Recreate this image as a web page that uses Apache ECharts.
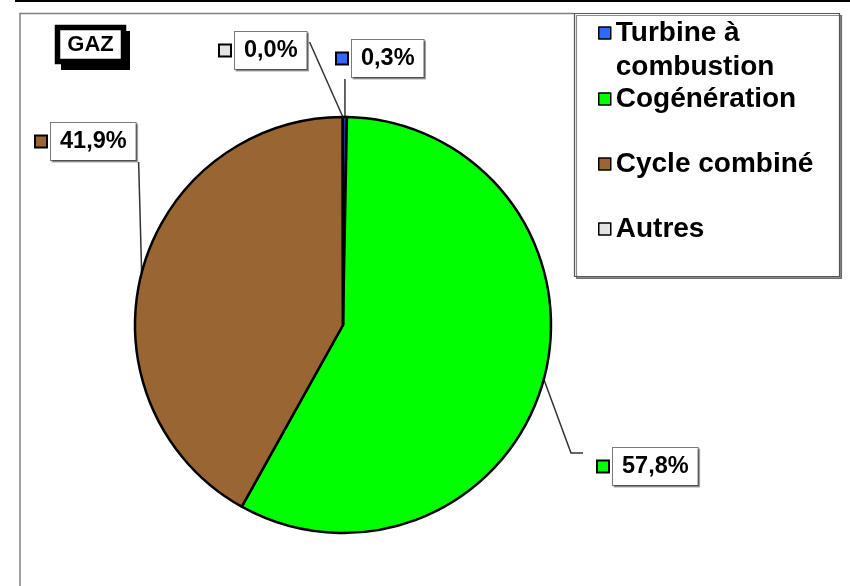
<!DOCTYPE html>
<html>
<head>
<meta charset="utf-8">
<script src="https://cdn.jsdelivr.net/npm/echarts@6/dist/echarts.min.js"></script>
<style>
  html, body { margin: 0; padding: 0; background: #fff; }
  #chart { width: 850px; height: 586px; }
</style>
</head>
<body>
<div id="chart"></div>
<script>
// ---- data ----
var categories = ['Turbine à combustion', 'Cogénération', 'Cycle combiné', 'Autres'];
var shares = [0.3, 57.8, 41.9, 0.02]; // percent (Autres shown as 0,0%)
var colors = ['#3366FF', '#00FF00', '#996633', '#E3E3E3'];
var chartTitle = 'GAZ';

// ---- style: label anchor positions (left of key square, top of box) ----
var labelPos = [[337, 40], [598, 448], [36, 123], [220, 32]];

var FONT = '"Liberation Sans", Arial, sans-serif';

function fmtPct(v) { return v.toFixed(1).replace('.', ',') + '%'; }

var chart = echarts.init(document.getElementById('chart'), null, { renderer: 'canvas' });

var legendText = { fontFamily: FONT, fontSize: 28, fontWeight: 'bold', color: '#000', lineHeight: 34 };

var option = {
  animation: false,
  graphic: [
    { type: 'line', z: 0, shape: { x1: 15, y1: 1, x2: 850, y2: 1 }, style: { stroke: '#000', lineWidth: 2 } },
    { type: 'polyline', z: 0, shape: { points: [[20, 586], [20, 13.5], [574, 13.5]] }, style: { stroke: '#808080', lineWidth: 1.5, fill: null } },
    { type: 'rect', z: 0, shape: { x: 574.5, y: 13.5, width: 265, height: 263 },
      style: { fill: '#fff', stroke: '#555', lineWidth: 1.2, shadowColor: 'rgba(0,0,0,0.45)', shadowOffsetX: 2, shadowOffsetY: 2, shadowBlur: 0 } },
    // GAZ tag
    { type: 'rect', z: 1, shape: { x: 61, y: 31, width: 69, height: 39 }, style: { fill: '#000' } },
    { type: 'rect', z: 2, shape: { x: 57.5, y: 27.5, width: 66, height: 34 }, style: { fill: '#fff', stroke: '#000', lineWidth: 5.5 } },
    { type: 'text', z: 3, x: 90.5, y: 45, style: { text: chartTitle, fill: '#000', font: 'bold 22px ' + FONT, textAlign: 'center', textVerticalAlign: 'middle' } }
  ],
  legend: [{
    orient: 'vertical',
    left: 598,
    top: -18,
    padding: 0,
    itemWidth: 12,
    itemHeight: 12,
    icon: 'rect',
    selectedMode: false,
    data: [categories[0]],
    itemStyle: { borderColor: '#000', borderWidth: 1.5 },
    formatter: function (name) { return ' \nTurbine à\ncombustion'; },
    textStyle: legendText
  }, {
    orient: 'vertical',
    left: 598,
    top: 82,
    padding: 0,
    itemGap: 31,
    itemWidth: 12,
    itemHeight: 12,
    icon: 'rect',
    selectedMode: false,
    data: categories.slice(1),
    itemStyle: { borderColor: '#000', borderWidth: 1.5 },
    textStyle: legendText
  }],
  series: [{
    type: 'pie',
    center: [343, 325],
    radius: 208,
    startAngle: 90,
    clockwise: true,
    silent: true,
    avoidLabelOverlap: false,
    data: categories.map(function (c, i) {
      return { name: c, value: shares[i], itemStyle: { color: colors[i] } };
    }),
    itemStyle: { borderColor: '#000', borderWidth: 2.5 },
    label: {
      show: true,
      position: 'outside',
      formatter: function (p) {
        return '{sq' + p.dataIndex + '|}{gap|}{box|' + fmtPct(p.value) + '}';
      },
      rich: {
        sq0: { width: 10, height: 10, backgroundColor: colors[0], borderColor: '#000', borderWidth: 2 },
        sq1: { width: 10, height: 10, backgroundColor: colors[1], borderColor: '#000', borderWidth: 2 },
        sq2: { width: 10, height: 10, backgroundColor: colors[2], borderColor: '#000', borderWidth: 2 },
        sq3: { width: 10, height: 10, backgroundColor: colors[3], borderColor: '#000', borderWidth: 2 },
        gap: { width: 5 },
        box: {
          fontFamily: FONT, fontSize: 23.5, fontWeight: 'bold', color: '#000',
          backgroundColor: '#fff', borderColor: '#7a7a7a', borderWidth: 1,
          padding: [7, 9, 6, 9],
          shadowColor: 'rgba(0,0,0,0.35)', shadowOffsetX: 1.5, shadowOffsetY: 1.5
        }
      }
    },
    labelLine: { show: true, lineStyle: { color: '#333', width: 1.5 } },
    labelLayout: function (p) {
      var pos = labelPos[p.dataIndex];
      var x = pos[0], y = pos[1];
      var w = p.labelRect.width, h = p.labelRect.height;
      var a = p.labelLinePoints ? p.labelLinePoints[0] : [343, 117];
      var pts;
      if (p.dataIndex === 0) {
        pts = [a, [a[0], y + h], [a[0], y + h]];
      } else if (p.dataIndex === 1) {
        pts = [a, [x - 27, y + 5], [x - 15, y + 5]];
      } else if (p.dataIndex === 2) {
        pts = [a, [x + w, y + h], [x + w, y + h]];
      } else {
        pts = [a, [x + w, y + 10], [x + w, y + 10]];
      }
      return { x: x, y: y, align: 'left', verticalAlign: 'top', labelLinePoints: pts };
    }
  }]
};

chart.setOption(option);
</script>
</body>
</html>
